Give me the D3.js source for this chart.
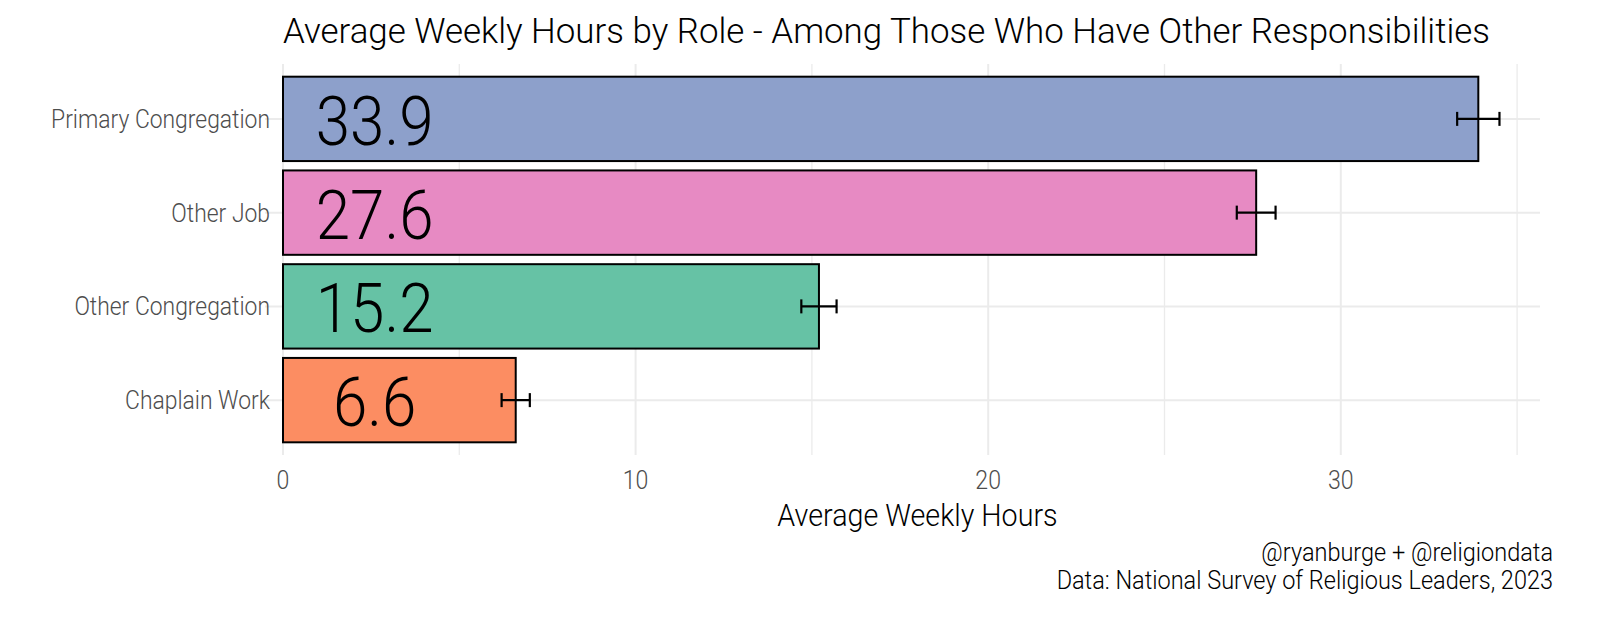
<!DOCTYPE html>
<html>
<head>
<meta charset="utf-8">
<script src="https://cdn.jsdelivr.net/npm/d3@7"></script>
<style>
  body { margin: 0; background: #fff; overflow: hidden; }
  svg { display: block; font-family: Roboto, "DejaVu Sans Condensed", sans-serif; font-weight: 300; }
</style>
</head>
<body>
<svg id="chart"></svg>
<script>
const roles = ["Primary Congregation", "Other Job", "Other Congregation", "Chaplain Work"];
const hours = [33.9, 27.6, 15.2, 6.6];
const errLow = [33.3, 27.05, 14.7, 6.2];
const errHigh = [34.5, 28.15, 15.7, 7.0];
const colors = ["#8DA0CB", "#E78AC3", "#66C2A5", "#FC8D62"];
const xTicks = [0, 10, 20, 30];
const xMinor = [5, 15, 25, 35];

const width = 1600, height = 622;
const squeeze = 0.925; // narrow Roboto toward the original's condensed face

const svg = d3.select("#chart").attr("width", width).attr("height", height);

const x = d3.scaleLinear().domain([0, 35]).range([283, 283 + 35 * 35.26]);
const y = d3.scaleBand().domain(roles).range([72, 447]).paddingInner(0.1).paddingOuter(0.05);

const panelRight = 1540;
const gridColor = "#ebebeb";

// horizontal squeeze around each text's own anchor x
const condense = (sel, factor = squeeze) => {
  sel.attr("transform", function() {
    const ax = +d3.select(this).attr("x");
    return `translate(${ax * (1 - factor)},0) scale(${factor},1)`;
  });
};

// grid
const grid = svg.append("g");
grid.selectAll(".minor").data(xMinor).join("line")
  .attr("x1", d => x(d)).attr("x2", d => x(d))
  .attr("y1", 64).attr("y2", 455)
  .attr("stroke", gridColor).attr("stroke-width", 1.3);
grid.selectAll(".major").data(xTicks).join("line")
  .attr("x1", d => x(d)).attr("x2", d => x(d))
  .attr("y1", 64).attr("y2", 455)
  .attr("stroke", gridColor).attr("stroke-width", 2);
grid.selectAll(".hgrid").data(roles).join("line")
  .attr("x1", 265).attr("x2", panelRight)
  .attr("y1", d => y(d) + y.bandwidth() / 2).attr("y2", d => y(d) + y.bandwidth() / 2)
  .attr("stroke", gridColor).attr("stroke-width", 2);

// bars
svg.append("g").selectAll("rect").data(roles).join("rect")
  .attr("x", x(0))
  .attr("y", d => y(d))
  .attr("width", (d, i) => x(hours[i]) - x(0))
  .attr("height", y.bandwidth())
  .attr("fill", (d, i) => colors[i])
  .attr("stroke", "#000").attr("stroke-width", 2);

// error bars
const eb = svg.append("g").attr("stroke", "#000").attr("stroke-width", 2.2);
roles.forEach((r, i) => {
  const cy = y(r) + y.bandwidth() / 2;
  eb.append("line").attr("x1", x(errLow[i])).attr("x2", x(errHigh[i])).attr("y1", cy).attr("y2", cy);
  eb.append("line").attr("x1", x(errLow[i])).attr("x2", x(errLow[i])).attr("y1", cy - 7).attr("y2", cy + 7);
  eb.append("line").attr("x1", x(errHigh[i])).attr("x2", x(errHigh[i])).attr("y1", cy - 7).attr("y2", cy + 7);
});

// value labels
svg.append("g").selectAll("text").data(roles).join("text")
  .attr("x", x(2.6))
  .attr("y", d => y(d) + y.bandwidth() / 2 + 26)
  .attr("text-anchor", "middle")
  .attr("font-size", 68)
  .attr("fill", "#000")
  .text((d, i) => hours[i].toFixed(1))
  .call(condense, 0.91);

// y labels
svg.append("g").selectAll("text").data(roles).join("text")
  .attr("x", 270)
  .attr("y", d => y(d) + y.bandwidth() / 2 + 9)
  .attr("text-anchor", "end")
  .attr("font-size", 25)
  .attr("fill", "#4d4d4d")
  .text(d => d)
  .call(condense, 0.915);

// x tick labels
svg.append("g").selectAll("text").data(xTicks).join("text")
  .attr("x", d => x(d))
  .attr("y", 489)
  .attr("text-anchor", "middle")
  .attr("font-size", 25)
  .attr("fill", "#4d4d4d")
  .text(d => d)
  .call(condense);

// axis title
svg.append("text")
  .attr("x", (x(0) + panelRight) / 2 + 6)
  .attr("y", 526)
  .attr("text-anchor", "middle")
  .attr("font-size", 31)
  .attr("fill", "#000")
  .text("Average Weekly Hours")
  .call(condense);

// title
svg.append("text")
  .attr("x", 283)
  .attr("y", 43)
  .attr("font-size", 35)
  .attr("fill", "#000")
  .text("Average Weekly Hours by Role - Among Those Who Have Other Responsibilities")
  .attr("textLength", 1207)
  .attr("lengthAdjust", "spacingAndGlyphs");

// caption
const cap = svg.append("g").attr("font-size", 25).attr("fill", "#000").attr("text-anchor", "end");
cap.append("text").attr("x", 1553).attr("y", 561).text("@ryanburge + @religiondata");
cap.append("text").attr("x", 1553).attr("y", 589).text("Data: National Survey of Religious Leaders, 2023");
cap.selectAll("text").call(condense, 0.94);
</script>
</body>
</html>
